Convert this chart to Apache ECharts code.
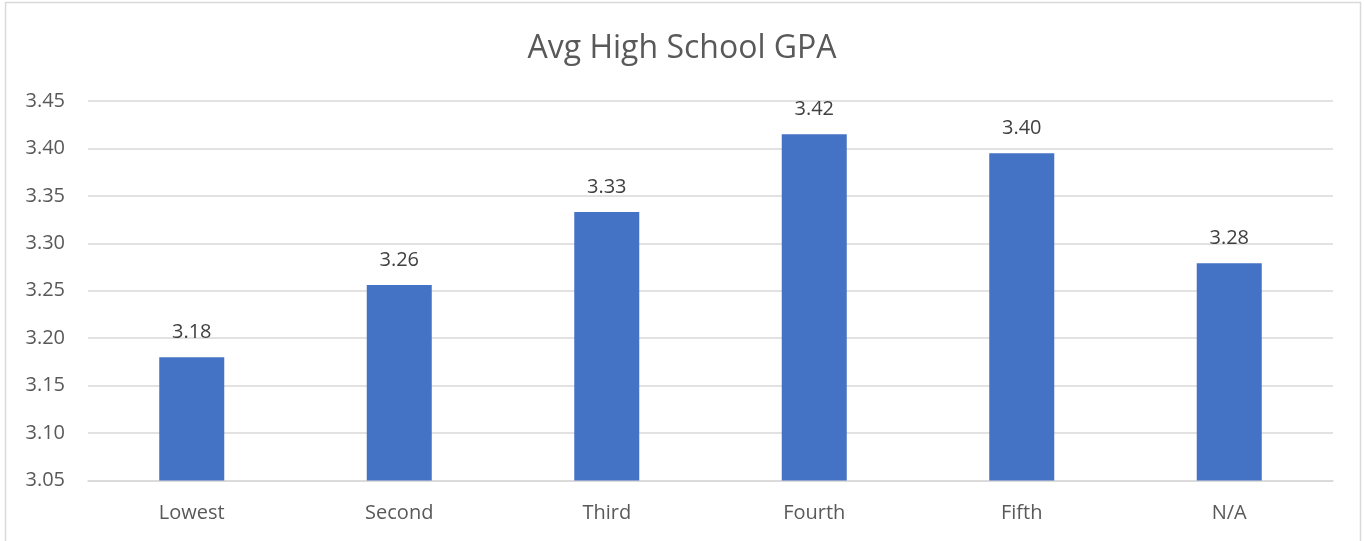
<!DOCTYPE html>
<html>
<head>
<meta charset="utf-8">
<script src="https://cdn.jsdelivr.net/npm/echarts@6/dist/echarts.min.js"></script>
<style>
html,body{margin:0;padding:0;background:#fff;}
#c{width:1364px;height:541px;}
</style>
</head>
<body>
<div id="c"></div>
<script>
const categories = ["Lowest", "Second", "Third", "Fourth", "Fifth", "N/A"];
const gpaValues = [3.18, 3.256, 3.333, 3.415, 3.395, 3.279];
const yTicks = { min: 3.05, max: 3.45, interval: 0.05 };
const titleText = "Avg High School GPA";

const chart = echarts.init(document.getElementById('c'), null, { renderer: 'canvas' });
const font = '"Open Sans", "Noto Sans", sans-serif';
chart.setOption({
  animation: false,
  backgroundColor: '#ffffff',
  title: {
    text: titleText,
    left: 'center',
    top: 28,
    textStyle: { fontFamily: font, fontSize: 32, fontWeight: 'normal', color: '#595959' }
  },
  graphic: [{
    type: 'rect',
    shape: { x: 5.5, y: 2.5, width: 1355, height: 600 },
    style: { fill: 'none', stroke: '#d9d9d9', lineWidth: 1.5 },
    silent: true
  }],
  grid: { left: 88, right: 31, top: 101, bottom: 60.5, containLabel: false },
  xAxis: {
    type: 'category',
    data: categories,
    axisLine: { show: true, lineStyle: { color: '#d9d9d9', width: 1.5 } },
    axisTick: { show: false },
    axisLabel: { fontFamily: font, fontSize: 20, color: '#595959', margin: 23 }
  },
  yAxis: {
    type: 'value',
    min: yTicks.min,
    max: yTicks.max,
    interval: yTicks.interval,
    axisLine: { show: false },
    axisTick: { show: false },
    splitLine: { lineStyle: { color: '#d9d9d9', width: 1.5 } },
    axisLabel: {
      fontFamily: font, fontSize: 20, color: '#595959', margin: 23,
      formatter: v => v.toFixed(2)
    }
  },
  series: [{
    type: 'bar',
    data: gpaValues,
    barWidth: 65,
    itemStyle: { color: '#4472c4' },
    label: {
      show: true,
      position: 'top',
      distance: 15,
      fontFamily: font, fontSize: 20, color: '#404040',
      formatter: p => p.value.toFixed(2)
    }
  }]
});
</script>
</body>
</html>
